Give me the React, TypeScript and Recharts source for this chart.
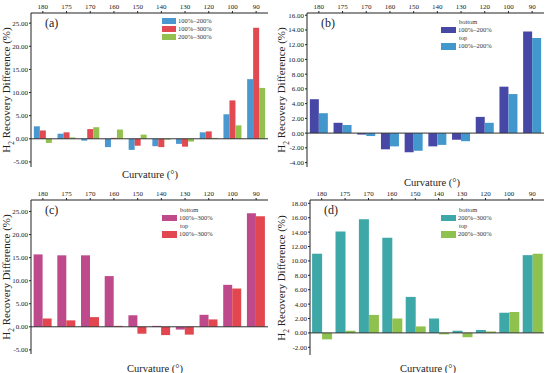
import React from 'react';
import { BarChart, Bar, XAxis, YAxis, ReferenceLine } from 'recharts';

const curvature = ['180', '175', '170', '160', '150', '140', '130', '120', '100', '90'];

// top position results
const top100_200 = [2.7, 1.1, -0.4, -1.8, -2.4, -1.6, -1.1, 1.4, 5.3, 12.9];
const top100_300 = [1.8, 1.4, 2.1, 0.2, -1.5, -1.8, -1.7, 1.6, 8.3, 24.0];
const top200_300 = [-0.9, 0.3, 2.5, 2.0, 0.9, -0.2, -0.6, 0.2, 2.9, 11.0];

// bottom position results
const bottom100_200 = [4.6, 1.4, -0.2, -2.2, -2.6, -1.8, -0.9, 2.2, 6.3, 13.8];
const bottom100_300 = [15.7, 15.5, 15.5, 11.0, 2.5, 0.2, -0.6, 2.6, 9.1, 24.6];
const bottom200_300 = [11.0, 14.1, 15.8, 13.2, 5.0, 2.0, 0.3, 0.4, 2.8, 10.8];

const ticksA = [-5, 0, 5, 10, 15, 20, 25];
const ticksB = [-4, -2, 0, 2, 4, 6, 8, 10, 12, 14, 16];
const ticksC = [-5, 0, 5, 10, 15, 20, 25];
const ticksD = [-2, 0, 2, 4, 6, 8, 10, 12, 14, 16, 18];

const FONT = "'Liberation Serif', 'Times New Roman', 'DejaVu Serif', serif";

type Series = { key: string; name: string; color: string; values: number[]; head?: string };

function Panel(props: {
  left: number;
  top: number;
  width: number;
  height: number;
  tag: string;
  series: Series[];
  domain: [number, number];
  ticks: number[];
  yWidth: number;
  xHeight: number;
  margin: { top: number; right: number; bottom: number; left: number };
  gap: string;
  legendX: number;
  legendY: number;
  titleY: number;
  titleX: number;
}) {
  const { series } = props;
  const rows = curvature.map((c, i) => {
    const r: Record<string, number | string> = { c };
    series.forEach((s) => (r[s.key] = s.values[i]));
    return r;
  });
  const plotLeft = props.margin.left + props.yWidth;
  const plotTop = props.margin.top + props.xHeight;
  const plotH = props.height - plotTop - props.margin.bottom;
  const plotMid = plotTop + plotH / 2;
  const grouped = series.some((s) => s.head);

  return (
    <div style={{ position: 'absolute', left: props.left, top: props.top, width: props.width, height: props.height }}>
      <BarChart
        width={props.width}
        height={props.height}
        data={rows}
        margin={props.margin}
        barGap={0}
        barCategoryGap={props.gap}
      >
        <XAxis
          dataKey="c"
          orientation="top"
          height={props.xHeight}
          axisLine={{ stroke: '#222' }}
          tickLine={{ stroke: '#222' }}
          tickSize={2}
          tickMargin={2}
          tick={{ fontSize: 7, fill: '#222', fontFamily: FONT }}
          interval={0}
        />
        <XAxis
          xAxisId="frame"
          dataKey="c"
          orientation="bottom"
          height={0}
          tick={false}
          tickLine={false}
          axisLine={{ stroke: '#888', strokeWidth: 2 }}
        />
        <YAxis
          type="number"
          domain={props.domain}
          ticks={props.ticks}
          allowDataOverflow
          width={props.yWidth}
          axisLine={{ stroke: '#222' }}
          tickLine={{ stroke: '#222' }}
          tickSize={2}
          tickMargin={1}
          tick={{ fontSize: 7, fill: '#222', fontFamily: FONT }}
          tickFormatter={(v: number) => v.toFixed(2)}
        />
        <YAxis
          yAxisId="frame"
          orientation="right"
          type="number"
          domain={[0, 1]}
          width={0}
          tick={false}
          tickLine={false}
          axisLine={{ stroke: '#777', strokeWidth: 1.5 }}
        />
        {series.map((s) => (
          <Bar key={s.key} dataKey={s.key} name={s.name} fill={s.color} isAnimationActive={false} />
        ))}
        <ReferenceLine y={0} stroke="#333" strokeWidth={1} />
      </BarChart>

      <div
        style={{
          position: 'absolute',
          left: plotLeft + 14,
          top: plotTop + 3,
          fontFamily: FONT,
          fontSize: 12,
          color: '#222',
        }}
      >
        {props.tag}
      </div>

      <div
        style={{
          position: 'absolute',
          left: props.legendX,
          top: props.legendY,
          fontFamily: FONT,
          fontSize: 6.5,
          color: '#333',
          lineHeight: '7.8px',
        }}
      >
        {series.map((s) => (
          <div key={s.key}>
            {grouped && <div style={{ paddingLeft: 18, height: 7.8 }}>{s.head}</div>}
            <div style={{ display: 'flex', alignItems: 'center', height: grouped ? 8.5 : 8 }}>
              <span
                style={{
                  display: 'inline-block',
                  width: grouped ? 15 : 14,
                  height: grouped ? 6.5 : 6,
                  background: s.color,
                  marginRight: 2,
                }}
              />
              <span>{s.name}</span>
            </div>
          </div>
        ))}
      </div>

      <div
        style={{
          position: 'absolute',
          left: 8,
          top: plotMid,
          transform: 'translate(-50%, -50%) rotate(-90deg)',
          whiteSpace: 'nowrap',
          fontFamily: FONT,
          fontSize: 11,
          color: '#222',
        }}
      >
        H<sub style={{ fontSize: 7.5 }}>2</sub> Recovery Difference (%)
      </div>

      <div
        style={{
          position: 'absolute',
          left: props.titleX,
          top: props.titleY,
          transform: 'translate(-50%, -50%)',
          whiteSpace: 'nowrap',
          fontFamily: FONT,
          fontSize: 10.5,
          color: '#222',
        }}
      >
        Curvature (°)
      </div>
    </div>
  );
}

export default function App() {
  return (
    <div style={{ position: 'absolute', left: 0, top: 0, width: 550, height: 373, background: '#fff' }}>
      <Panel
        left={0}
        top={0}
        width={275}
        height={186}
        tag="(a)"
        series={[
          { key: 's1', name: '100%–200%', color: '#4a98cf', values: top100_200 },
          { key: 's2', name: '100%–300%', color: '#e04a50', values: top100_300 },
          { key: 's3', name: '200%–300%', color: '#92c150', values: top200_300 },
        ]}
        domain={[-6.1, 27.2]}
        ticks={ticksA}
        yWidth={31}
        xHeight={13}
        margin={{ top: 0, right: 7, bottom: 19, left: 0 }}
        gap="12%"
        legendX={162}
        legendY={17}
        titleX={150}
        titleY={174}
      />
      <Panel
        left={275}
        top={0}
        width={275}
        height={186}
        tag="(b)"
        series={[
          { key: 's1', name: '100%–200%', color: '#4747a6', values: bottom100_200, head: 'bottom' },
          { key: 's2', name: '100%–200%', color: '#4298cd', values: top100_200, head: 'top' },
        ]}
        domain={[-4.6, 16.3]}
        ticks={ticksB}
        yWidth={32}
        xHeight={13}
        margin={{ top: 0, right: 6, bottom: 19, left: 0 }}
        gap="12%"
        legendX={166}
        legendY={18}
        titleX={157}
        titleY={182}
      />
      <Panel
        left={0}
        top={186}
        width={275}
        height={187}
        tag="(c)"
        series={[
          { key: 's1', name: '100%–300%', color: '#be4a8b', values: bottom100_300, head: 'bottom' },
          { key: 's2', name: '100%–300%', color: '#e2474f', values: top100_300, head: 'top' },
        ]}
        domain={[-5.9, 27.5]}
        ticks={ticksC}
        yWidth={31}
        xHeight={14}
        margin={{ top: 0, right: 7, bottom: 19, left: 0 }}
        gap="11%"
        legendX={162}
        legendY={20}
        titleX={155}
        titleY={182}
      />
      <Panel
        left={275}
        top={186}
        width={275}
        height={187}
        tag="(d)"
        series={[
          { key: 's1', name: '200%–300%', color: '#3ea7a8', values: bottom200_300, head: 'bottom' },
          { key: 's2', name: '200%–300%', color: '#8fc14f', values: top200_300, head: 'top' },
        ]}
        domain={[-3.07, 18.46]}
        ticks={ticksD}
        yWidth={35}
        xHeight={14}
        margin={{ top: 0, right: 6, bottom: 18, left: 0 }}
        gap="9%"
        legendX={166}
        legendY={20}
        titleX={153}
        titleY={182}
      />
    </div>
  );
}
